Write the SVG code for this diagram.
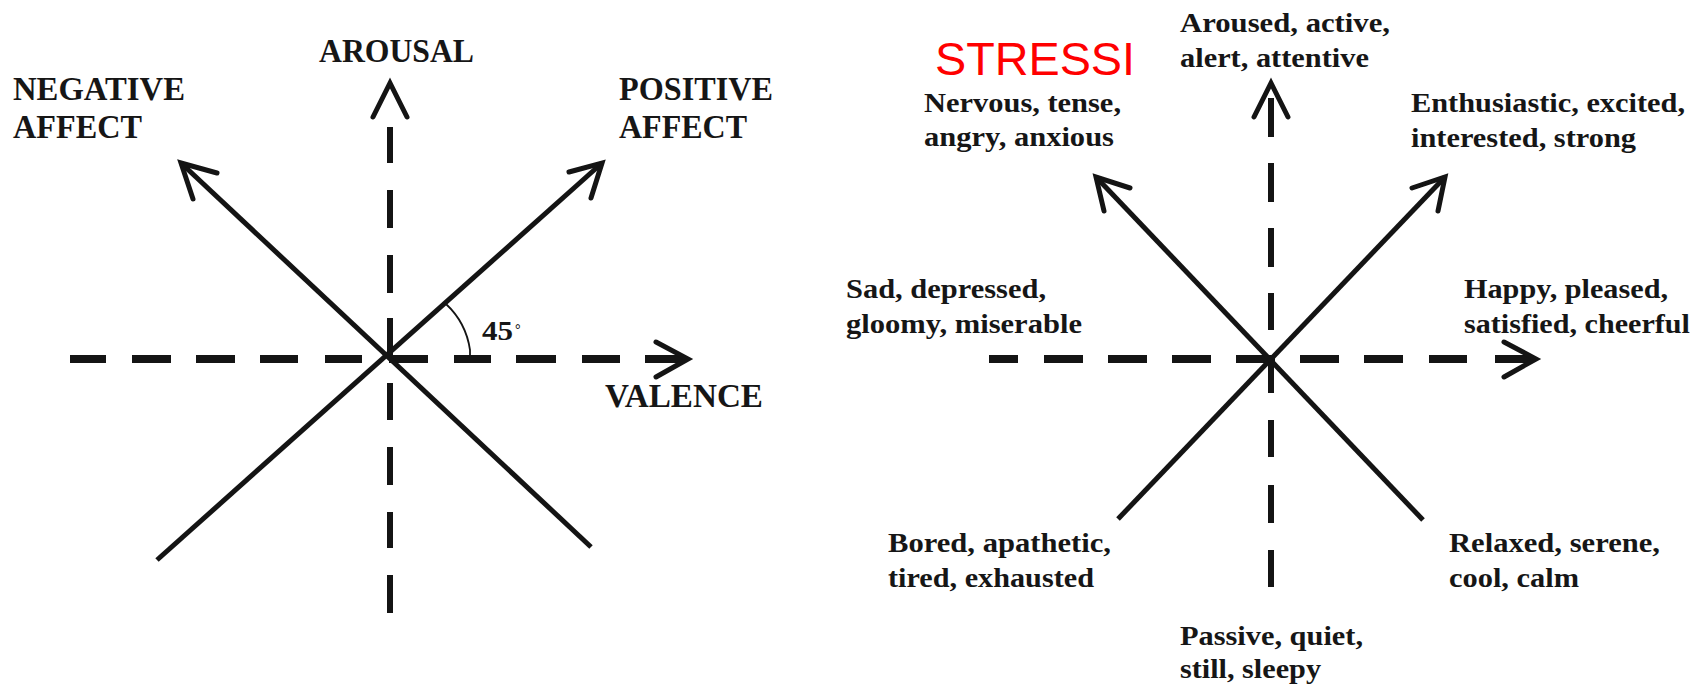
<svg xmlns="http://www.w3.org/2000/svg" width="1703" height="687" viewBox="0 0 1703 687">
<style>
.bg{fill:#ffffff}
.dh{fill:none;stroke:#141414;stroke-width:8}
.dv{fill:none;stroke:#141414;stroke-width:6}
.ln{fill:none;stroke:#141414;stroke-width:5;stroke-linecap:butt}
.ah{fill:none;stroke:#141414;stroke-width:5;stroke-linecap:round;stroke-linejoin:miter}
.arc{fill:none;stroke:#141414;stroke-width:1.8}
.cap{font-family:"Liberation Serif","Times New Roman",serif;font-weight:bold;font-size:34px;fill:#161616}
.lbl{font-family:"Liberation Serif","Times New Roman",serif;font-weight:bold;font-size:28px;fill:#161616}
.red{font-family:"Liberation Sans",Arial,sans-serif;font-size:46px;fill:#ff0000}
</style>
<rect class="bg" x="0" y="0" width="1703" height="687"/>
<g id="connectors">
  <!-- left diagram -->
  <path class="dh" d="M70 359H106M132 359H171M196 359H235M260 359H298M325 359H362M389 359H428M454 359H491M516 359H556M582 359H620M645 359H684"/>
  <path class="ah" d="M656 342L688 359L656 377"/>
  <path class="dv" d="M390 127V163M390 190V228M390 255V293M390 318V356M390 383V420M390 447V485M390 512V548M390 575V613"/>
  <path class="ah" d="M373 117L390 83L407 117"/>
  <path class="ln" d="M157 560L602 163"/>
  <path class="ah" d="M569 172L602 163L591 198"/>
  <path class="ln" d="M591 547L181 163"/>
  <path class="ah" d="M217 173L181 163L193 199"/>
  <path class="arc" d="M446 304A78 78 0 0 1 470 350L470 358"/>
  <!-- right diagram -->
  <path class="dh" d="M989 359H1018M1044 359H1083M1108 359H1147M1172 359H1211M1236 359H1275M1300 359H1339M1364 359H1403M1429 359H1467M1495 359H1532"/>
  <path class="ah" d="M1504 342L1536 359L1504 377"/>
  <path class="dv" d="M1271 98V137M1271 163V202M1271 228V267M1271 293V330M1271 355V393M1271 420V457M1271 485V523M1271 550V587"/>
  <path class="ah" d="M1254 117L1271 83L1288 117"/>
  <path class="ln" d="M1118 519L1445 177"/>
  <path class="ah" d="M1412 188L1445 177L1438 211"/>
  <path class="ln" d="M1423 520L1096 177"/>
  <path class="ah" d="M1130 188L1096 177L1104 211"/>
</g>
<g id="left-labels">
  <g id="arousal"><text class="cap" x="319" y="62" textLength="155" lengthAdjust="spacingAndGlyphs">AROUSAL</text></g>
  <g id="negative-affect"><text class="cap" x="13" y="100" textLength="172" lengthAdjust="spacingAndGlyphs">NEGATIVE</text><text class="cap" x="13" y="138" textLength="129" lengthAdjust="spacingAndGlyphs">AFFECT</text></g>
  <g id="positive-affect"><text class="cap" x="619" y="100" textLength="154" lengthAdjust="spacingAndGlyphs">POSITIVE</text><text class="cap" x="619" y="138" textLength="128" lengthAdjust="spacingAndGlyphs">AFFECT</text></g>
  <g id="valence"><text class="cap" x="605" y="407" textLength="158" lengthAdjust="spacingAndGlyphs">VALENCE</text></g>
  <g id="angle"><text class="lbl" x="482" y="340" textLength="31" lengthAdjust="spacingAndGlyphs">45</text><text class="lbl" x="515" y="334" style="font-size:14px">°</text></g>
</g>
<g id="right-labels">
  <g id="stressi"><text class="red" x="935" y="75" textLength="200" lengthAdjust="spacingAndGlyphs">STRESSI</text></g>
  <g id="aroused"><text class="lbl" x="1180" y="32" textLength="210" lengthAdjust="spacingAndGlyphs">Aroused, active,</text><text class="lbl" x="1180" y="67" textLength="189" lengthAdjust="spacingAndGlyphs">alert, attentive</text></g>
  <g id="nervous"><text class="lbl" x="924" y="112" textLength="197" lengthAdjust="spacingAndGlyphs">Nervous, tense,</text><text class="lbl" x="924" y="146" textLength="190" lengthAdjust="spacingAndGlyphs">angry, anxious</text></g>
  <g id="enthusiastic"><text class="lbl" x="1411" y="112" textLength="274" lengthAdjust="spacingAndGlyphs">Enthusiastic, excited,</text><text class="lbl" x="1411" y="147" textLength="225" lengthAdjust="spacingAndGlyphs">interested, strong</text></g>
  <g id="sad"><text class="lbl" x="846" y="298" textLength="200" lengthAdjust="spacingAndGlyphs">Sad, depressed,</text><text class="lbl" x="846" y="333" textLength="236" lengthAdjust="spacingAndGlyphs">gloomy, miserable</text></g>
  <g id="happy"><text class="lbl" x="1464" y="298" textLength="204" lengthAdjust="spacingAndGlyphs">Happy, pleased,</text><text class="lbl" x="1464" y="333" textLength="226" lengthAdjust="spacingAndGlyphs">satisfied, cheerful</text></g>
  <g id="bored"><text class="lbl" x="888" y="552" textLength="223" lengthAdjust="spacingAndGlyphs">Bored, apathetic,</text><text class="lbl" x="888" y="587" textLength="206" lengthAdjust="spacingAndGlyphs">tired, exhausted</text></g>
  <g id="relaxed"><text class="lbl" x="1449" y="552" textLength="211" lengthAdjust="spacingAndGlyphs">Relaxed, serene,</text><text class="lbl" x="1449" y="587" textLength="130" lengthAdjust="spacingAndGlyphs">cool, calm</text></g>
  <g id="passive"><text class="lbl" x="1180" y="645" textLength="183" lengthAdjust="spacingAndGlyphs">Passive, quiet,</text><text class="lbl" x="1180" y="678" textLength="141" lengthAdjust="spacingAndGlyphs">still, sleepy</text></g>
</g>
</svg>
